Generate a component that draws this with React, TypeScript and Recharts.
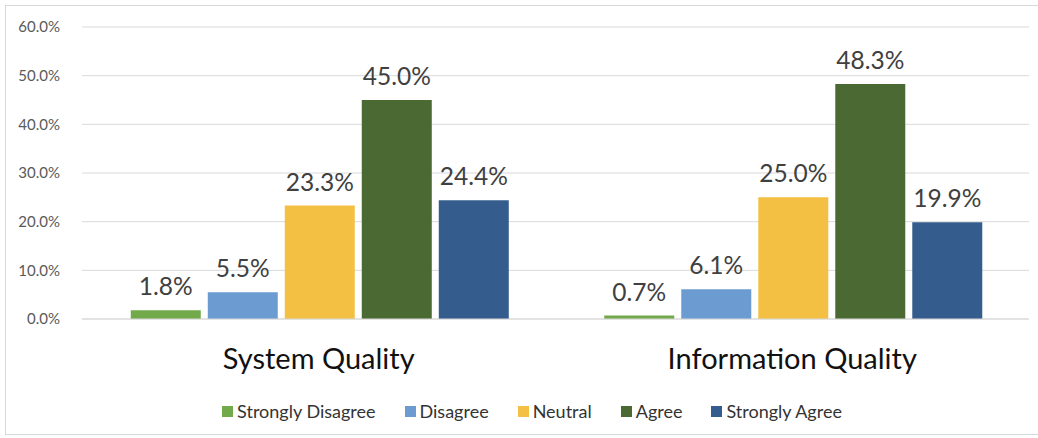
import React from 'react';
import { BarChart, Bar, XAxis, YAxis, CartesianGrid, Legend, LabelList } from 'recharts';

const categories = ['System Quality', 'Information Quality'];
const stronglyDisagree = [1.8, 0.7];
const disagree = [5.5, 6.1];
const neutral = [23.3, 25.0];
const agree = [45.0, 48.3];
const stronglyAgree = [24.4, 19.9];
const yTicks = [0, 10, 20, 30, 40, 50, 60];

const series = [
    { key: 'Strongly Disagree', values: stronglyDisagree, color: '#72A94B' },
    { key: 'Disagree', values: disagree, color: '#6B9BD1' },
    { key: 'Neutral', values: neutral, color: '#F4C043' },
    { key: 'Agree', values: agree, color: '#4B6A33' },
    { key: 'Strongly Agree', values: stronglyAgree, color: '#345C8D' },
];

const data = categories.map((name, i) => {
    const row: Record<string, any> = { name };
    series.forEach(s => { row[s.key] = s.values[i]; });
    return row;
});

const FONT = 'Lato, "Open Sans", sans-serif';

const CategoryTick = (props: any) => {
    const { x, y, payload } = props;
    return (
        <text x={x} y={y + 42} textAnchor="middle" fill="#111" fontSize={29} fontFamily={FONT}>
            {payload.value}
        </text>
    );
};

// legend in series order, Excel-style spacing
const LegendContent = () => (
    <div style={{ display: 'flex', justifyContent: 'center', alignItems: 'center', height: 24, gap: 29, paddingLeft: 35, fontFamily: FONT, fontSize: 18, color: '#333' }}>
        {series.map(s => (
            <div key={s.key} style={{ display: 'flex', alignItems: 'center' }}>
                <span style={{ display: 'inline-block', width: 11, height: 11, background: s.color, marginRight: 4 }} />
                <span>{s.key}</span>
            </div>
        ))}
    </div>
);

const App: React.FC = () => (
    <div style={{ position: 'absolute', left: 0, top: 0, width: 1038, height: 438, background: '#fff' }}>
        <div style={{ position: 'absolute', left: 5, top: 5, width: 1040, height: 430, border: '1px solid #d9d9d9', boxSizing: 'border-box' }} />
        <BarChart
            width={1038}
            height={438}
            data={data}
            margin={{ top: 27, right: 9, left: 0, bottom: 15 }}
            barCategoryGap="10.3%"
            barGap={7}
        >
            <CartesianGrid vertical={false} stroke="#d9d9d9" />
            <XAxis
                dataKey="name"
                height={80}
                axisLine={{ stroke: '#d9d9d9' }}
                tickLine={false}
                tick={<CategoryTick />}
                interval={0}
            />
            <YAxis
                width={82}
                domain={[0, 60]}
                ticks={yTicks}
                axisLine={false}
                tickLine={false}
                tickFormatter={(v: number) => `${v.toFixed(1)}%`}
                tick={{ fill: '#595959', fontSize: 15, fontFamily: FONT }}
                tickMargin={16}
            />
            <Legend
                verticalAlign="bottom"
                align="center"
                content={<LegendContent />}
                wrapperStyle={{ height: 24 }}
            />
            {series.map(s => (
                <Bar key={s.key} dataKey={s.key} fill={s.color} isAnimationActive={false}>
                    <LabelList
                        dataKey={s.key}
                        position="top"
                        offset={15}
                        formatter={(v: any) => `${Number(v).toFixed(1)}%`}
                        style={{ fill: '#404040', fontSize: 24.5, fontFamily: FONT }}
                    />
                </Bar>
            ))}
        </BarChart>
    </div>
);

export default App;
